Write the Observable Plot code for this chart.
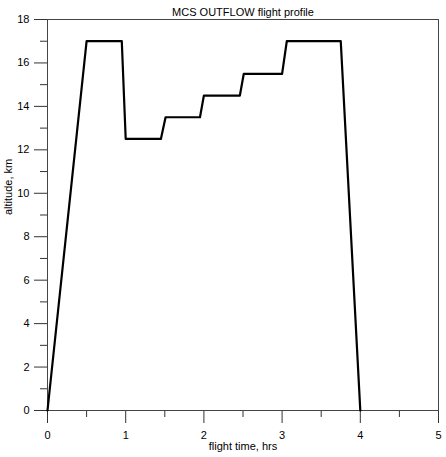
<!DOCTYPE html>
<html>
<head>
<meta charset="utf-8">
<script src="https://cdn.jsdelivr.net/npm/d3@7"></script>
<script src="https://cdn.jsdelivr.net/npm/@observablehq/plot@0.6"></script>
<style>
  html, body { margin: 0; padding: 0; background: #fff; }
  #chart svg { display: block; }
</style>
</head>
<body>
<div id="chart"></div>
<script>
const title = "MCS OUTFLOW flight profile";
const xLabel = "flight time, hrs";
const yLabel = "altitude, km";
const flightTime = [0, 0.5, 0.95, 1.0, 1.45, 1.51, 1.95, 2.0, 2.46, 2.51, 3.0, 3.06, 3.75, 4.0];
const altitude   = [0, 17, 17, 12.5, 12.5, 13.5, 13.5, 14.5, 14.5, 15.5, 15.5, 17, 17, 0];
const xMajor = [0, 1, 2, 3, 4, 5];
const xMinor = [0.5, 1.5, 2.5, 3.5, 4.5];
const yMajor = [0, 2, 4, 6, 8, 10, 12, 14, 16, 18];
const yMinor = [1, 3, 5, 7, 9, 11, 13, 15, 17];

const data = flightTime.map((t, i) => ({t, a: altitude[i]}));

const chart = Plot.plot({
  width: 446,
  height: 457,
  marginTop: 19,
  marginBottom: 47,
  marginLeft: 47,
  marginRight: 8,
  style: {fontFamily: "'Liberation Sans', Arial, sans-serif", fontSize: "11px", color: "#000", background: "#fff"},
  x: {domain: [0, 5]},
  y: {domain: [0, 18]},
  marks: [
    Plot.axisX(xMajor, {tickSize: 13, tickPadding: 8, stroke: "#333", fontSize: 11, label: null}),
    Plot.axisX(xMinor, {tickSize: 7, tickFormat: () => "", stroke: "#333", label: null}),
    Plot.axisY(yMajor, {tickSize: 13, tickPadding: 5, stroke: "#333", fontSize: 11, label: null}),
    Plot.axisY(yMinor, {tickSize: 7, tickFormat: () => "", stroke: "#333", label: null}),
    Plot.frame({stroke: "#444"}),
    Plot.line(data, {x: "t", y: "a", stroke: "#000", strokeWidth: 2.2}),
    Plot.text([title], {frameAnchor: "top", dy: -11, fontSize: 11, fill: "#000"}),
    Plot.text([xLabel], {frameAnchor: "bottom", dy: 39, fontSize: 11, fill: "#000"}),
    Plot.text([yLabel], {frameAnchor: "left", dx: -39, rotate: -90, fontSize: 11, fill: "#000"})
  ]
});
document.getElementById("chart").appendChild(chart);
</script>
</body>
</html>
